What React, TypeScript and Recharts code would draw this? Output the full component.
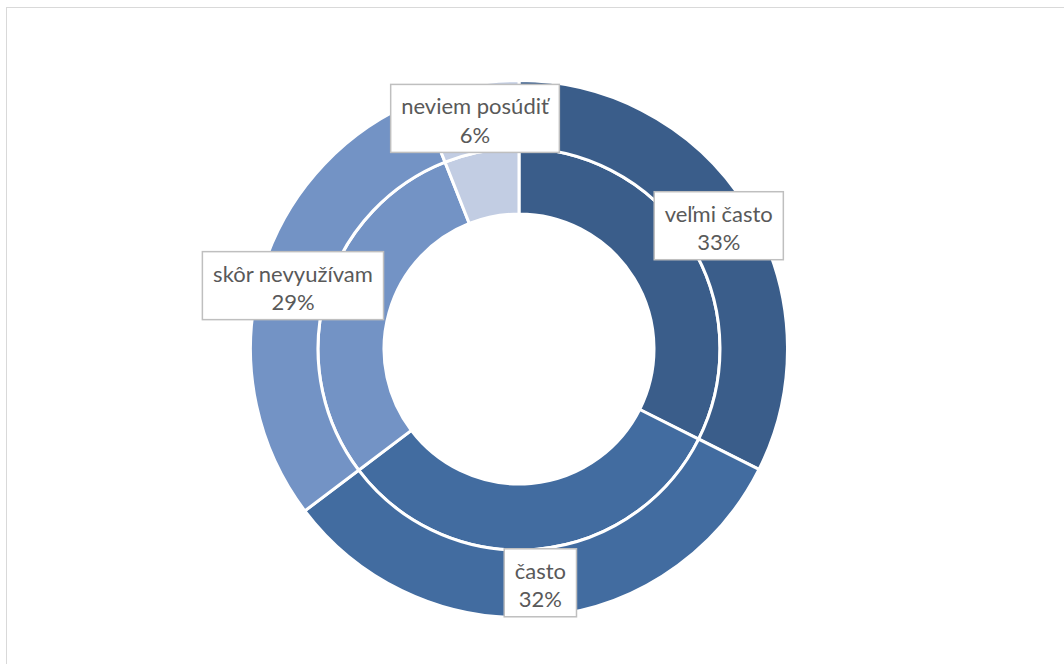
import { PieChart, Pie, Cell } from "recharts";

const categories = ["veľmi často", "často", "skôr nevyužívam", "neviem posúdiť"];
// ring sizes; the printed labels are the rounded shares
const innerValues = [32.4, 32.3, 29.3, 6.0];
const outerValues = [32.4, 32.3, 29.3, 6.0];
const percentLabels = ["33%", "32%", "29%", "6%"];
const colors = ["#3A5D8A", "#426CA0", "#7393C5", "#C2CDE3"];

const innerData = categories.map((name, i) => ({ name, value: innerValues[i] }));
const outerData = categories.map((name, i) => ({ name, value: outerValues[i] }));

const RADIAN = Math.PI / 180;
const FONT = "22px Lato";
let ctx: CanvasRenderingContext2D | null = null;

function measure(t: string) {
    if (!ctx) ctx = document.createElement("canvas").getContext("2d");
    if (!ctx) return t.length * 11;
    ctx.font = FONT;
    return ctx.measureText(t).width;
}

function BoxLabel(props: any) {
    const { cx, cy, midAngle, innerRadius, outerRadius, index } = props;
    const name = categories[index];
    const pct = percentLabels[index];
    const r = (innerRadius + outerRadius) / 2;
    const x = cx + r * Math.cos(-midAngle * RADIAN);
    const y = cy + r * Math.sin(-midAngle * RADIAN);
    const w = Math.max(measure(name), measure(pct)) + 21;
    const h = 68;
    return (
        <g>
            <rect
                x={x - w / 2}
                y={y - h / 2}
                width={w}
                height={h}
                fill="#ffffff"
                stroke="#BFBFBF"
                strokeWidth={1.5}
            />
            <text x={x} y={y - 4} textAnchor="middle" fill="#595959" style={{ font: FONT }}>
                {name}
            </text>
            <text x={x} y={y + 24.5} textAnchor="middle" fill="#595959" style={{ font: FONT }}>
                {pct}
            </text>
        </g>
    );
}

export default function App() {
    return (
        <div
            style={{
                position: "absolute",
                left: 0,
                top: 0,
                width: 1064,
                height: 664,
                overflow: "hidden",
                background: "#ffffff",
            }}
        >
            <div
                style={{
                    position: "absolute",
                    left: 6,
                    top: 7,
                    width: 1100,
                    height: 700,
                    border: "1px solid #D9D9D9",
                }}
            />
            <PieChart
                width={1064}
                height={664}
                margin={{ top: 0, right: 0, bottom: 0, left: 0 }}
                style={{ position: "absolute", left: 0, top: 0 }}
            >
                <Pie
                    data={innerData}
                    dataKey="value"
                    cx={519}
                    cy={349}
                    innerRadius={135}
                    outerRadius={201}
                    startAngle={90}
                    endAngle={-270}
                    stroke="#ffffff"
                    strokeWidth={3}
                    isAnimationActive={false}
                >
                    {innerData.map((d, i) => (
                        <Cell key={d.name} fill={colors[i]} />
                    ))}
                </Pie>
                <Pie
                    data={outerData}
                    dataKey="value"
                    cx={519}
                    cy={349}
                    innerRadius={201}
                    outerRadius={268.5}
                    startAngle={90}
                    endAngle={-270}
                    stroke="#ffffff"
                    strokeWidth={3}
                    label={BoxLabel}
                    labelLine={false}
                    isAnimationActive={false}
                >
                    {outerData.map((d, i) => (
                        <Cell key={d.name} fill={colors[i]} />
                    ))}
                </Pie>
            </PieChart>
        </div>
    );
}
